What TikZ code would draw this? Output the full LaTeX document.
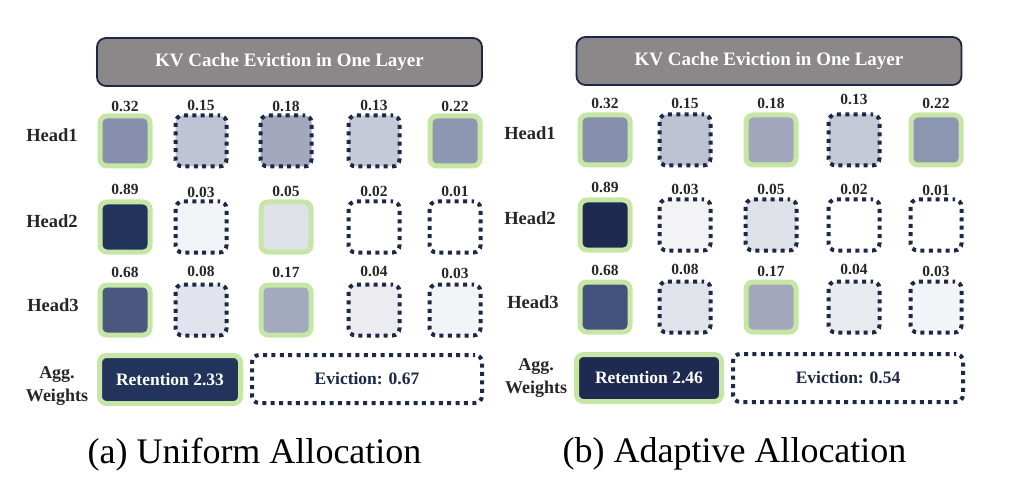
\documentclass[tikz,border=0pt]{standalone}
\usepackage{fontspec}
\setmainfont{Liberation Serif}
\definecolor{keepgreen}{HTML}{C6E6A5}
\definecolor{dotnavy}{HTML}{1C2847}
\definecolor{titlegray}{HTML}{8A8889}
\definecolor{retnavy}{HTML}{22335C}
\definecolor{retnavyb}{HTML}{1F2A50}
\tikzset{
  keepcell/.style={draw=keepgreen, line width=5pt, rounded corners=7pt, minimum width=50pt, minimum height=50pt, inner sep=0pt},
  dotline/.style={draw=dotnavy, line width=4pt, dash pattern=on 4pt off 4.4pt, dash phase=2pt, rounded corners=7pt},
  dropcell/.style={dotline, minimum width=51pt, minimum height=51pt, inner sep=0pt},
  valtext/.style={inner sep=0pt, font=\bfseries\fontsize{15.5}{18}\selectfont, text=black!85},
  headtext/.style={inner sep=0pt, anchor=base, font=\bfseries\fontsize{18.5}{21}\selectfont, text=black!85},
  aggtext/.style={inner sep=0pt, anchor=base, font=\bfseries\fontsize{18}{21}\selectfont, text=black!85},
  titlebox/.style={draw=dotnavy, line width=1.8pt, fill=titlegray, rounded corners=9pt, minimum width=385pt, minimum height=48pt, inner sep=0pt, text=white, font=\bfseries\fontsize{19}{22}\selectfont},
  captext/.style={inner sep=0pt, anchor=base, font=\fontsize{36}{40}\selectfont},
  retbox/.style={draw=keepgreen, line width=5pt, rounded corners=7pt, inner sep=0pt, text=white, font=\bfseries\fontsize{17.5}{20}\selectfont},
  evibox/.style={dotline, fill=white, minimum width=230pt, minimum height=48pt, inner sep=0pt, text=dotnavy, font=\bfseries\fontsize{17.5}{20}\selectfont},
}
\newcommand{\kvcell}[7]{%
  \definecolor{fill#1}{HTML}{#3}%
  \node[#2, fill=fill#1] (#1) at (#4,#5) {};
  \node[valtext] (#1v) at (#4,#7) {#6};}
\begin{document}
\begin{tikzpicture}[x=1pt,y=-1pt]
\useasboundingbox (0,0) rectangle (1018,484);
% ---------------- left panel ----------------
\node[titlebox] (ltitle) at (289.5,62) {KV Cache Eviction in One Layer};
\node[headtext] (lh1) at (52,142) {Head1};
\node[headtext] (lh2) at (52,227) {Head2};
\node[headtext] (lh3) at (53,311) {Head3};
\node[aggtext] (lagg1) at (57,378) {Agg.};
\node[aggtext] (lagg2) at (57,401) {Weights};
% row 1
\kvcell{la1}{keepcell}{878FAC}{125}{141}{0.32}{106}
\kvcell{la2}{dropcell}{BEC4D3}{201}{141}{0.15}{105}
\kvcell{la3}{dropcell}{A3A8BD}{286}{141}{0.18}{106}
\kvcell{la4}{dropcell}{C6C9D7}{374}{141}{0.13}{105}
\kvcell{la5}{keepcell}{8C97B1}{455}{141}{0.22}{106}
% row 2
\kvcell{lb1}{keepcell}{22335C}{125}{227}{0.89}{189}
\kvcell{lb2}{dropcell}{F2F3F6}{201}{227}{0.03}{192}
\kvcell{lb3}{keepcell}{DFE1E9}{286}{227}{0.05}{191}
\kvcell{lb4}{dropcell}{FFFFFF}{374}{227}{0.02}{191}
\kvcell{lb5}{dropcell}{FFFFFF}{455}{227}{0.01}{191}
% row 3
\kvcell{lc1}{keepcell}{4A5880}{125}{310}{0.68}{272}
\kvcell{lc2}{dropcell}{E1E4EC}{201}{310}{0.08}{271}
\kvcell{lc3}{keepcell}{A3A9BE}{286}{310}{0.17}{272}
\kvcell{lc4}{dropcell}{ECEBF0}{374}{310}{0.04}{271}
\kvcell{lc5}{dropcell}{F3F4F7}{455}{310}{0.03}{273}
% aggregated
\node[retbox, fill=retnavy, minimum width=141pt, minimum height=48pt] (lret) at (170,379.5) {Retention 2.33};
\node[evibox] (levi) at (367,379) {Eviction: 0.67};
\node[captext] (lcap) at (254.5,463) {(a) Uniform Allocation};
% ---------------- right panel ----------------
\node[titlebox] (rtitle) at (769,61) {KV Cache Eviction in One Layer};
\node[headtext] (rh1) at (530,140) {Head1};
\node[headtext] (rh2) at (530,225) {Head2};
\node[headtext] (rh3) at (533,308) {Head3};
\node[aggtext] (ragg1) at (536,370) {Agg.};
\node[aggtext] (ragg2) at (536,393) {Weights};
% row 1
\kvcell{ra1}{keepcell}{858EAB}{605}{140}{0.32}{103}
\kvcell{ra2}{dropcell}{BCC2D1}{685}{140}{0.15}{103}
\kvcell{ra3}{keepcell}{A1A6BD}{771}{140}{0.18}{103}
\kvcell{ra4}{dropcell}{C5C8D6}{854}{140}{0.13}{99}
\kvcell{ra5}{keepcell}{8B97B0}{936}{140}{0.22}{103}
% row 2
\kvcell{rb1}{keepcell}{1F2A50}{605}{225}{0.89}{187}
\kvcell{rb2}{dropcell}{F3F3F6}{685}{225}{0.03}{189}
\kvcell{rb3}{dropcell}{DFE1E9}{771}{225}{0.05}{189}
\kvcell{rb4}{dropcell}{FFFFFF}{854}{225}{0.02}{189}
\kvcell{rb5}{dropcell}{FFFFFF}{936}{225}{0.01}{190}
% row 3
\kvcell{rc1}{keepcell}{43527D}{605}{307}{0.68}{270}
\kvcell{rc2}{dropcell}{E1E3EA}{685}{307}{0.08}{269}
\kvcell{rc3}{keepcell}{A2A7BC}{771}{307}{0.17}{271}
\kvcell{rc4}{dropcell}{E9EAF0}{854}{307}{0.04}{269}
\kvcell{rc5}{dropcell}{F3F4F7}{936}{307}{0.03}{271}
% aggregated
\node[retbox, fill=retnavyb, minimum width=145pt, minimum height=47pt] (rret) at (649,378) {Retention 2.46};
\node[evibox] (revi) at (848,378) {Eviction: 0.54};
\node[captext] (rcap) at (734.5,462) {(b) Adaptive Allocation};
\end{tikzpicture}
\end{document}
